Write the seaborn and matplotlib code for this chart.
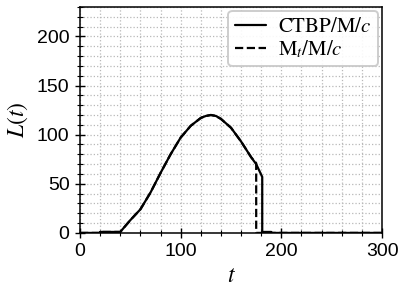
import pandas as pd
import matplotlib
matplotlib.use("Agg")
import matplotlib.pyplot as plt
from matplotlib.ticker import AutoMinorLocator
import seaborn as sns

# 데이터
t_ctbp = [0, 20, 20, 40, 50, 60, 70, 80, 90, 100, 110, 120, 125, 130, 135, 140, 150,
          160, 170, 175, 181, 181, 190, 190, 300]
L_ctbp = [0, 0, 1, 1, 13, 24, 41, 61, 80, 97, 109, 117, 119, 120, 119, 116, 107,
          93, 77, 70, 57, 1, 1, 0, 0]

t_mt = [0, 20, 20, 40, 50, 60, 70, 80, 90, 100, 110, 120, 125, 130, 135, 140, 150,
        160, 170, 175, 175, 300]
L_mt = [0, 0, 1, 1, 13, 24, 41, 61, 80, 97, 109, 117, 119, 120, 119, 116, 107,
        93, 77, 71, 0, 0]

sns.set_style("ticks")
plt.rcParams["font.family"] = ["Liberation Sans", "DejaVu Sans"]
plt.rcParams["mathtext.fontset"] = "stix"
for k in ["text.color", "axes.labelcolor", "xtick.color", "ytick.color", "axes.edgecolor"]:
    plt.rcParams[k] = "black"

df_ctbp = pd.DataFrame({"t": t_ctbp, "L": L_ctbp})
df_mt = pd.DataFrame({"t": t_mt, "L": L_mt})

fig, ax = plt.subplots(figsize=(4.06, 2.99), dpi=100)
fig.subplots_adjust(left=0.197, right=0.941, top=0.977, bottom=0.221)

sns.lineplot(data=df_mt, x="t", y="L", ax=ax, color="black", lw=1.6,
             linestyle="--", sort=False, estimator=None, label=r"$\mathrm{M}_t/\mathrm{M}/c$")
sns.lineplot(data=df_ctbp, x="t", y="L", ax=ax, color="black", lw=1.6,
             sort=False, estimator=None, label=r"$\mathrm{CTBP/M}/c$")

ax.set_xlim(0, 300)
ax.set_ylim(0, 230)
ax.set_xticks([0, 100, 200, 300])
ax.set_yticks([0, 50, 100, 150, 200])
ax.xaxis.set_minor_locator(AutoMinorLocator(5))
ax.yaxis.set_minor_locator(AutoMinorLocator(5))
ax.grid(which="both", linestyle=":", color="#b8b8b8", lw=0.9)
ax.tick_params(which="major", direction="inout", length=7, width=1, labelsize=14, pad=4)
ax.tick_params(which="minor", direction="inout", length=4, width=0.8)
for s in ax.spines.values():
    s.set_linewidth(1.1)

ax.set_xlabel(r"$t$", fontsize=17, labelpad=3)
ax.set_ylabel(r"$L(t)$", fontsize=17, labelpad=5)

h, l = ax.get_legend_handles_labels()
leg = ax.legend(h[::-1], l[::-1], loc="upper right", fontsize=15, frameon=True,
                fancybox=True, edgecolor="#c8c8c8", framealpha=0.9,
                handlelength=1.5, handletextpad=0.6, borderpad=0.3,
                labelspacing=0.1, borderaxespad=0.2)
leg.get_frame().set_linewidth(1.4)

plt.savefig("out.png", dpi=100)
